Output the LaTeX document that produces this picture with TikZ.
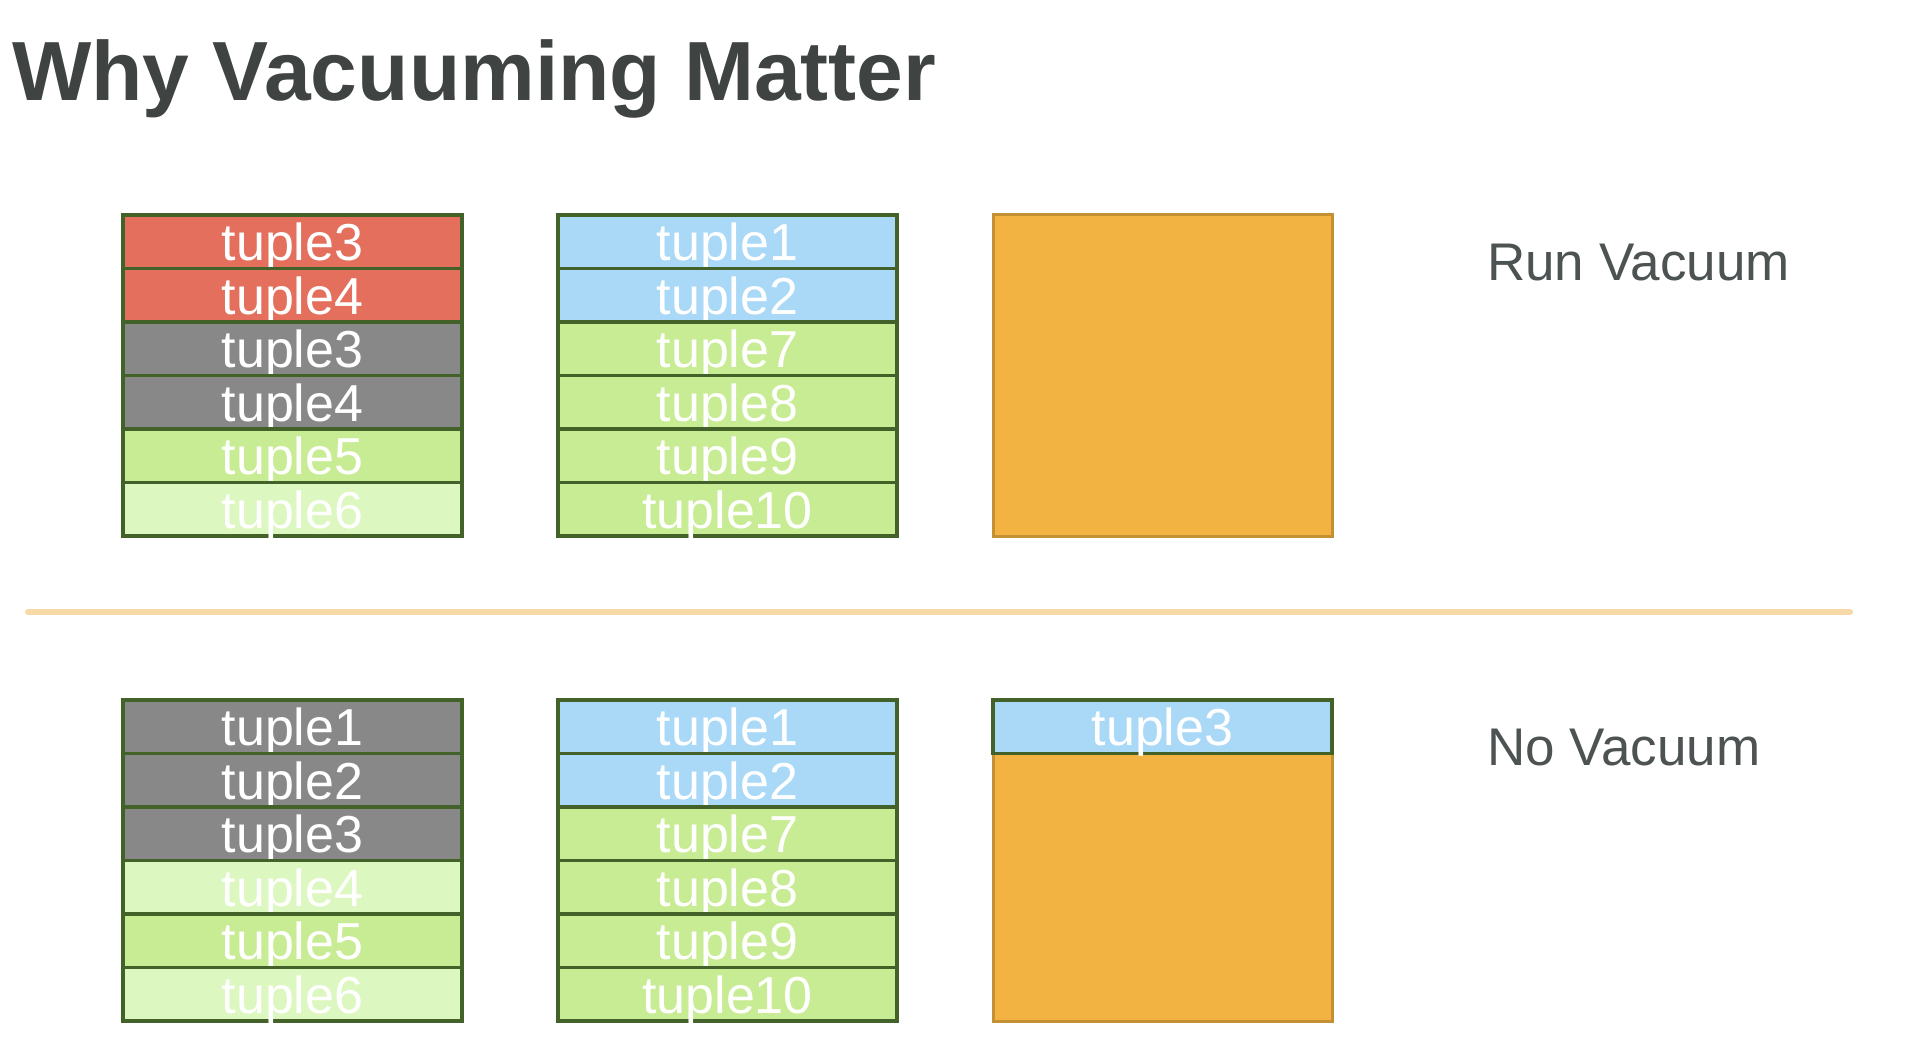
\documentclass[tikz,border=0pt]{standalone}
\usepackage{fontspec}
\setmainfont{Liberation Sans}
\usepackage{tikz}

\definecolor{titlegray}{HTML}{3F4341}
\definecolor{labelgray}{HTML}{4D5252}
\definecolor{rowline}{HTML}{42622A}
\definecolor{deadred}{HTML}{E36F5C}
\definecolor{oldgray}{HTML}{888888}
\definecolor{liveblue}{HTML}{A9D9F7}
\definecolor{livegreen}{HTML}{C8EC94}
\definecolor{palegreen}{HTML}{DCF7C0}
\definecolor{freeorange}{HTML}{F3B343}
\definecolor{orangeline}{HTML}{C49034}
\definecolor{splitline}{HTML}{F6D9A6}

\tikzset{
  tuplerow/.style={draw=rowline, line width=3.5pt, minimum width=339pt, minimum height=53.5pt,
    inner sep=0pt, text=white, text depth=0pt, font=\fontsize{52}{52}\selectfont},
  redrow/.style={tuplerow, fill=deadred},
  grayrow/.style={tuplerow, fill=oldgray},
  bluerow/.style={tuplerow, fill=liveblue},
  greenrow/.style={tuplerow, fill=livegreen},
  palerow/.style={tuplerow, fill=palegreen},
  freepage/.style={draw=orangeline, line width=3pt, fill=freeorange, minimum width=339pt,
    minimum height=321pt, inner sep=0pt},
  sidelabel/.style={text=labelgray, inner sep=0pt, font=\fontsize{53}{53}\selectfont}
}

\begin{document}
\begin{tikzpicture}[x=1pt,y=-1pt]
\useasboundingbox (0,0) rectangle (1930,1048);

\node[anchor=base west, inner sep=0pt, text=titlegray, font=\fontsize{84}{84}\selectfont\bfseries] (title) at (12,101) {Why Vacuuming Matter};

\node[redrow] (ra1) at (292.5,241.75) {tuple3};
\node[redrow] (ra2) at (292.5,295.25) {tuple4};
\node[grayrow] (ra3) at (292.5,348.75) {tuple3};
\node[grayrow] (ra4) at (292.5,402.25) {tuple4};
\node[greenrow] (ra5) at (292.5,455.75) {tuple5};
\node[palerow] (ra6) at (292.5,509.25) {tuple6};

\node[bluerow] (rb1) at (727.5,241.75) {tuple1};
\node[bluerow] (rb2) at (727.5,295.25) {tuple2};
\node[greenrow] (rb3) at (727.5,348.75) {tuple7};
\node[greenrow] (rb4) at (727.5,402.25) {tuple8};
\node[greenrow] (rb5) at (727.5,455.75) {tuple9};
\node[greenrow] (rb6) at (727.5,509.25) {tuple10};

\node[freepage] (rc) at (1162.5,375.5) {};

\node[sidelabel, anchor=base west] (runlbl) at (1487,281) {Run Vacuum};

\coordinate (splitl) at (28,612);
\coordinate (splitr) at (1850,612);
\draw[splitline, line width=6pt, line cap=round] (splitl) -- (splitr);

\node[grayrow] (na1) at (292.5,726.75) {tuple1};
\node[grayrow] (na2) at (292.5,780.25) {tuple2};
\node[grayrow] (na3) at (292.5,833.75) {tuple3};
\node[palerow] (na4) at (292.5,887.25) {tuple4};
\node[greenrow] (na5) at (292.5,940.75) {tuple5};
\node[palerow] (na6) at (292.5,994.25) {tuple6};

\node[bluerow] (nb1) at (727.5,726.75) {tuple1};
\node[bluerow] (nb2) at (727.5,780.25) {tuple2};
\node[greenrow] (nb3) at (727.5,833.75) {tuple7};
\node[greenrow] (nb4) at (727.5,887.25) {tuple8};
\node[greenrow] (nb5) at (727.5,940.75) {tuple9};
\node[greenrow] (nb6) at (727.5,994.25) {tuple10};

\node[freepage] (nc) at (1162.5,860.5) {};
\node[bluerow] (nc1) at (1162.5,726.75) {tuple3};

\node[sidelabel, anchor=base west] (nolbl) at (1487,765) {No Vacuum};

\end{tikzpicture}
\end{document}
